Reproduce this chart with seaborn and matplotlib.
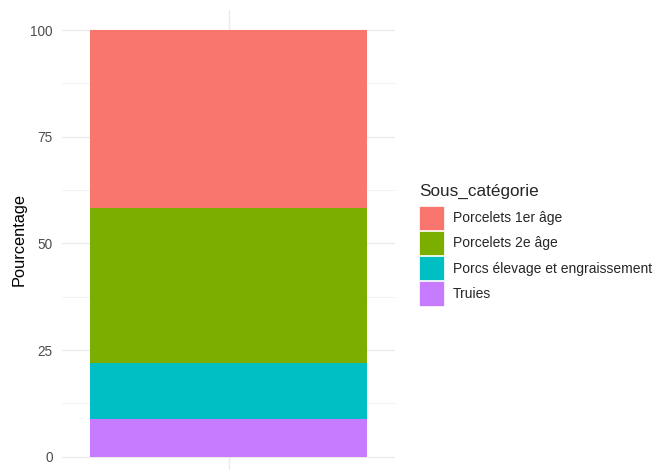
import matplotlib
matplotlib.use("Agg")
import matplotlib.pyplot as plt
import seaborn as sns
import pandas as pd

categories = ["Porcelets 1er âge", "Porcelets 2e âge", "Porcs élevage et engraissement", "Truies"]
values = [41.7, 36.4, 13.1, 8.8]
colors = ["#F8766D", "#7CAE00", "#00BFC4", "#C77CFF"]
y_ticks = [0, 25, 50, 75, 100]

# cumulative tops (stack: Truies at bottom)
cum = []
running = 0
for v in reversed(values):
    running += v
    cum.append(running)
cum = list(reversed(cum))

df = pd.DataFrame({"x": [""] * len(categories), "cat": categories, "top": cum})

sns.set_style("white")
plt.rcParams["font.family"] = ["Liberation Sans", "DejaVu Sans"]

fig = plt.figure(figsize=(6.54, 4.71), dpi=100)
ax = fig.add_axes([62 / 654, 1 / 471, 333 / 654, 460 / 471])

sns.barplot(data=df, x="x", y="top", hue="cat", hue_order=categories,
            palette=colors, dodge=False, width=1.0, ax=ax, saturation=1,
            linewidth=0, zorder=3)

ax.set_xlim(-0.6, 0.6)
ax.set_ylim(-3.1, 104.7)
ax.set_yticks(y_ticks)
ax.set_yticks([12.5, 37.5, 62.5, 87.5], minor=True)
ax.set_xticks([0])
ax.set_xticklabels([""])
ax.grid(True, which="major", color="#EBEBEB", linewidth=1.0, zorder=0)
ax.grid(True, which="minor", axis="y", color="#EBEBEB", linewidth=0.5, zorder=0)
ax.set_axisbelow(True)
for s in ax.spines.values():
    s.set_visible(False)
ax.tick_params(axis="both", which="both", length=0)
ax.tick_params(axis="y", labelsize=9.8, labelcolor="#4D4D4D", pad=6.5)
ax.set_xlabel("")
ax.set_ylabel("Pourcentage", fontsize=11.8, color="black", labelpad=3)

handles, labels = ax.get_legend_handles_labels()
ax.get_legend().remove()
leg = fig.legend(handles, labels, title="Sous_catégorie", loc="upper left",
                 bbox_to_anchor=(419 / 654, 1 - 183.5 / 471), frameon=False,
                 fontsize=10, title_fontsize=12.3, handlelength=1.8, handleheight=2.3,
                 labelspacing=0.08, handletextpad=0.65, borderpad=0, borderaxespad=0)
leg._legend_box.align = "left"
leg._legend_box.sep = 5
for h in leg.legend_handles:
    h.set_edgecolor("white")
    h.set_linewidth(0.5)

fig.savefig("out.png", dpi=100)
